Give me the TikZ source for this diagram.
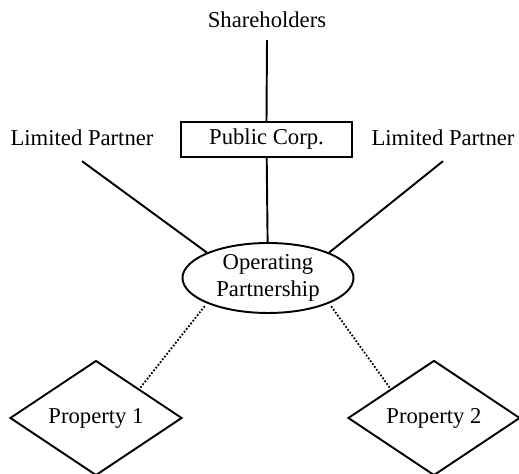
\documentclass[tikz,border=0pt]{standalone}
\usepackage{fontspec}
\setmainfont{Liberation Serif}
\usetikzlibrary{shapes.geometric}

\tikzset{
  lbl/.style={font=\fontsize{12.9}{15.4}\selectfont},
  link/.style={line width=1.1pt},
  weak/.style={line width=1pt, densely dotted},
  corp/.style={lbl, draw, line width=1.1pt, minimum width=3.42cm, minimum height=0.7cm},
  opco/.style={lbl, draw, ellipse, line width=1.1pt, minimum width=3.42cm, minimum height=1.4cm, inner sep=0pt, align=center},
  prop/.style={lbl, draw, diamond, line width=1.1pt, minimum width=3.44cm, minimum height=2.22cm, inner sep=0pt}
}

\begin{document}
\begin{tikzpicture}
    \useasboundingbox (0,0) rectangle (10.38,9.48);

    % Owners
    \node[lbl] (share) at (5.34,9.08) {Shareholders};
    \node[corp] (pub) at (5.33,6.69) {Public Corp.};
    \node[lbl] (lpl) at (1.64,6.72) {Limited Partner};
    \node[lbl] (lpr) at (8.86,6.72) {Limited Partner};

    % Operating partnership
    \node[opco] (op) at (5.36,3.92) {Operating\\Partnership};

    % Properties
    \node[prop] (p1) at (1.92,1.12) {Property 1};
    \node[prop] (p2) at (8.68,1.12) {Property 2};

    % Ownership links
    \draw[link] (share.south) ++(0,-0.12) coordinate (st) -- (pub.north);
    \draw[link] (pub) -- (op);
    \draw[link] (lpl.south) ++(0,-0.18) coordinate (lt) -- (op.north west);
    \draw[link] (lpr.south) ++(0,-0.18) coordinate (rt) -- (op.north east);

    % Property links
    \draw[weak, shorten <=2pt] (op.south west) -- (p1.north east);
    \draw[weak, shorten <=2pt] (op.south east) -- (p2.north west);
  \end{tikzpicture}
\end{document}
